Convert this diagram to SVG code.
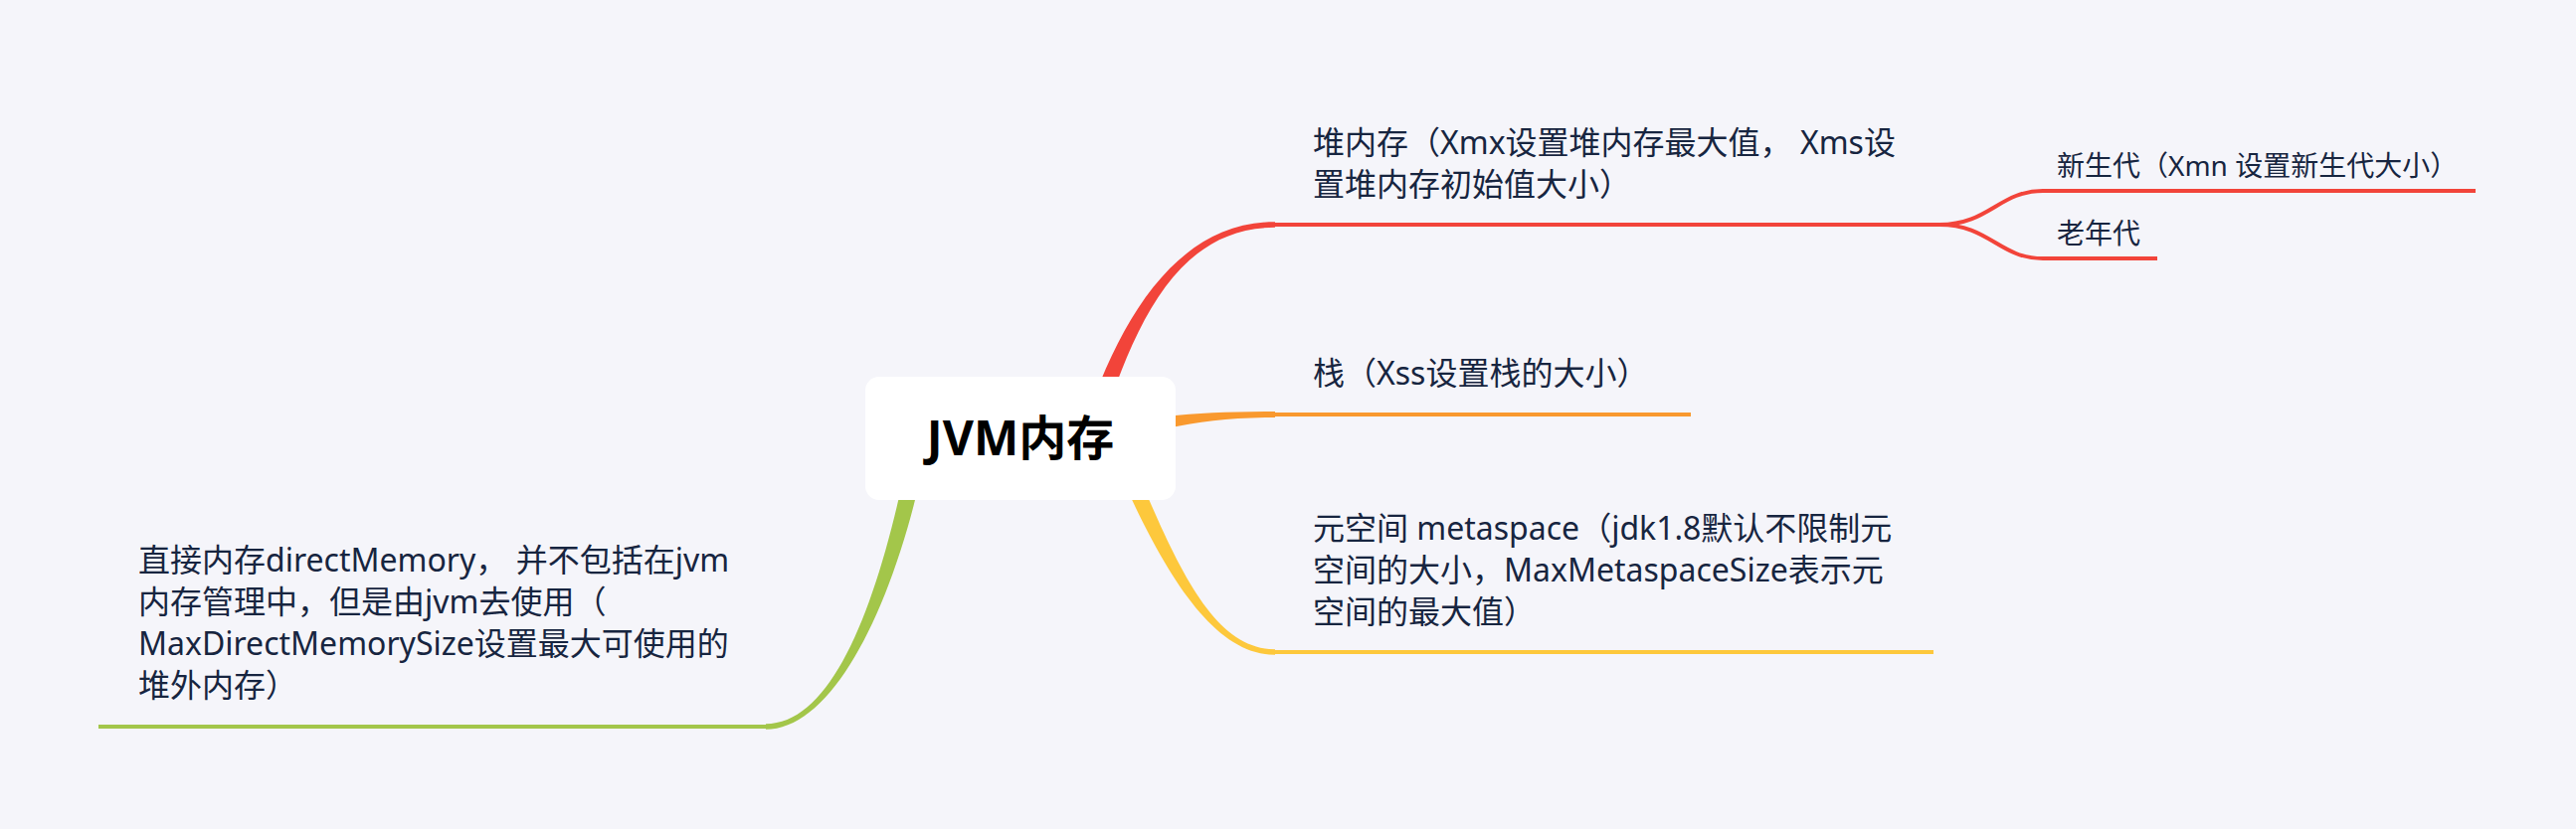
<svg xmlns="http://www.w3.org/2000/svg" width="2590" height="834" viewBox="0 0 2590 834">
<style>
.t{font-family:"Noto Sans","Noto Sans CJK SC",sans-serif;fill:#172540;}
.l1{font-size:32px;}
.l2{font-size:28px;}
.root{font-family:"Noto Sans","Noto Sans CJK SC",sans-serif;font-size:48px;font-weight:bold;fill:#000;}
.ln{fill:none;stroke-width:4;stroke-linecap:butt;}
.red{stroke:#F2443A;} .redf{fill:#F2443A;}
.org{stroke:#F9992E;} .orgf{fill:#F9992E;}
.yel{stroke:#FDC83C;} .yelf{fill:#FDC83C;}
.grn{stroke:#A3C64A;} .grnf{fill:#A3C64A;}
</style>
<rect x="0" y="0" width="2590" height="834" fill="#F5F5FA"/>
<g id="connectors">
  <path class="redf" d="M 1103.1 443.6 C 1138.1 332.6 1180 228.8 1282 228.8 L 1282 223.2 C 1180 223.2 1121.9 327.4 1086.9 438.4 Z"/>
  <path class="ln red" d="M 1280 226 L 1952 226"/>
  <path class="ln red" d="M 1950 226 C 2000 226 2010 192 2054 192 L 2489 192"/>
  <path class="ln red" d="M 1950 226 C 2000 226 2010 260 2054 260 L 2169 260"/>
  <path class="orgf" d="M 1091.8 449.3 C 1151.8 436.3 1200 420 1282 420 L 1282 414 C 1200 414 1148.2 419.7 1088.2 432.7 Z"/>
  <path class="ln org" d="M 1280 417 L 1700 417"/>
  <path class="yelf" d="M 1127.8 437.7 C 1177.8 556.7 1215 653.2 1282 653.2 L 1282 658.8 C 1215 658.8 1162.2 563.3 1112.2 444.3 Z"/>
  <path class="ln yel" d="M 1280 656 L 1944 656"/>
  <path class="grnf" d="M 933.4 442.6 C 903.4 601.6 840 733.8 770 733.8 L 770 728.2 C 840 728.2 886.6 598.4 916.6 439.4 Z"/>
  <path class="ln grn" d="M 99 731 L 772 731"/>
</g>
<g id="root">
  <rect x="870" y="379" width="312" height="124" rx="14" fill="#FFFFFF"/>
  <text class="root" x="1026" y="458" text-anchor="middle">JVM内存</text>
</g>
<g id="heap">
  <text class="t l1" x="1320" y="155">堆内存（Xmx设置堆内存最大值， Xms设</text>
  <text class="t l1" x="1320" y="197">置堆内存初始值大小）</text>
</g>
<g id="young">
  <text class="t l2" x="2068" y="177">新生代（Xmn 设置新生代大小）</text>
</g>
<g id="old">
  <text class="t l2" x="2068" y="245">老年代</text>
</g>
<g id="stack">
  <text class="t l1" x="1320" y="387">栈（Xss设置栈的大小）</text>
</g>
<g id="metaspace">
  <text class="t l1" x="1320" y="543">元空间 metaspace（jdk1.8默认不限制元</text>
  <text class="t l1" x="1320" y="585">空间的大小，MaxMetaspaceSize表示元</text>
  <text class="t l1" x="1320" y="627">空间的最大值）</text>
</g>
<g id="direct">
  <text class="t l1" x="139" y="575">直接内存directMemory， 并不包括在jvm</text>
  <text class="t l1" x="139" y="617">内存管理中，但是由jvm去使用（</text>
  <text class="t l1" x="139" y="659">MaxDirectMemorySize设置最大可使用的</text>
  <text class="t l1" x="139" y="701">堆外内存）</text>
</g>
</svg>
